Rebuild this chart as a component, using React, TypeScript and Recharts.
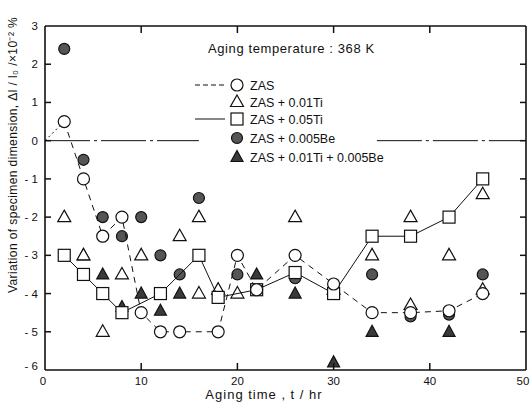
import React from 'react';
import { ComposedChart, Scatter, XAxis, YAxis, ReferenceLine, Customized } from 'recharts';

// ZAS (open circles, dashed line)
const zasT = [2, 4, 6, 8, 10, 12, 14, 18, 20, 22, 26, 30, 34, 38, 42, 45.5];
const zasV = [0.5, -1, -2.5, -2, -4.5, -5, -5, -5, -3, -3.9, -3, -3.75, -4.5, -4.5, -4.45, -4];
const zasStartT = [0, 2];
const zasStartV = [0, 0.5];
// ZAS + 0.01Ti (open triangles)
const ti01T = [2, 4, 6, 8, 10, 14, 16, 16, 18, 20, 26, 30, 34, 38, 38, 42, 45.5, 45.5];
const ti01V = [-2, -3, -5, -3.5, -3, -2.5, -2, -4, -3.9, -4, -2, -3.9, -3, -2, -4.3, -3, -1.4, -3.9];
// ZAS + 0.05Ti (open squares, solid line)
const ti05T = [2, 4, 6, 8, 12, 16, 18, 22, 26, 30, 34, 38, 42, 45.5];
const ti05V = [-3, -3.5, -4, -4.5, -4, -3, -4.1, -3.9, -3.45, -4, -2.5, -2.5, -2, -1];
// ZAS + 0.005Be (grey filled circles)
const beT = [2, 4, 6, 8, 10, 12, 14, 16, 20, 26, 34, 38, 42, 45.5];
const beV = [2.4, -0.5, -2, -2.5, -2, -3, -3.5, -1.5, -3.5, -3.6, -3.5, -4.6, -4.55, -3.5];
// ZAS + 0.01Ti + 0.005Be (filled triangles)
const tibeT = [4, 6, 8, 10, 12, 14, 18, 22, 26, 30, 34, 42];
const tibeV = [-3, -3.5, -4.35, -4, -4.45, -4, -3.9, -3.5, -4, -5.8, -5, -5];

const xTicks = [0, 10, 20, 30, 40, 50];
const yTicks = [3, 2, 1, 0, -1, -2, -3, -4, -5, -6];

const legendLabels = ['ZAS', 'ZAS + 0.01Ti', 'ZAS + 0.05Ti', 'ZAS + 0.005Be', 'ZAS + 0.01Ti + 0.005Be'];
const annotation = 'Aging temperature  : 368 K';
const xTitle = 'Aging time ,  t / hr';
const yTitle = 'Variation of specimen dimension, \u0394l / l\u2080 /\u00d710\u207b\u00b2 %';

const toData = (t: number[], v: number[]) => t.map((x, i) => ({ t: x, v: v[i] }));

const FONT = '"Liberation Sans", Arial, sans-serif';
const INK = '#111';
const AX = { stroke: INK, strokeWidth: 1.6 };

const OpenCircle = (p: any) => <circle cx={p.cx} cy={p.cy} r={6} fill="#fff" stroke={INK} strokeWidth={1.2} />;
const OpenTri = (p: any) => (
  <path d={`M${p.cx},${p.cy - 7} L${p.cx + 6.5},${p.cy + 4.5} L${p.cx - 6.5},${p.cy + 4.5} Z`} fill="#fff" stroke={INK} strokeWidth={1.2} />
);
const OpenSquare = (p: any) => <rect x={p.cx - 6} y={p.cy - 6} width={12} height={12} fill="#fff" stroke={INK} strokeWidth={1.2} />;
const GreyCircle = (p: any) => <circle cx={p.cx} cy={p.cy} r={5.5} fill="#555" stroke={INK} strokeWidth={1.2} />;
const DarkTri = (p: any) => (
  <path d={`M${p.cx},${p.cy - 6.5} L${p.cx + 6},${p.cy + 4.5} L${p.cx - 6},${p.cy + 4.5} Z`} fill="#3a3a3a" stroke={INK} strokeWidth={1.2} />
);
const NoShape = () => <g />;

const BottomTick = (p: any) => {
  const v = p.payload.value;
  return (
    <g>
      {v > 0 && v < 50 && <line x1={p.x} y1={p.y} x2={p.x} y2={p.y - 7} stroke={INK} strokeWidth={1.5} />}
      <text x={p.x + (v === 0 ? -2 : v === 50 ? -3 : 0)} y={p.y + 15} textAnchor="middle" fontSize={11.5} fontFamily={FONT} fill={INK}>{v}</text>
    </g>
  );
};
const TopTick = (p: any) => {
  const v = p.payload.value;
  return <g>{v > 0 && v < 50 && <line x1={p.x} y1={p.y} x2={p.x} y2={p.y + 7} stroke={INK} strokeWidth={1.5} />}</g>;
};
const LeftTick = (p: any) => {
  const v = p.payload.value;
  const label = v < 0 ? `- ${Math.abs(v)}` : String(v);
  return (
    <g>
      {v > -6 && v < 3 && <line x1={p.x} y1={p.y} x2={p.x + 6} y2={p.y} stroke={INK} strokeWidth={1.5} />}
      <text x={p.x - 7} y={p.y + 4 - (v === -6 ? 4 : 0)} textAnchor="end" fontSize={11.5} fontFamily={FONT} fill={INK}>{label}</text>
    </g>
  );
};
const RightTick = (p: any) => {
  const v = p.payload.value;
  return <g>{v > -6 && v < 3 && <line x1={p.x} y1={p.y} x2={p.x - 6} y2={p.y} stroke={INK} strokeWidth={1.5} />}</g>;
};

const Decor = () => {
  const rows = [85, 102, 119, 138, 157];
  const sx = 237;
  return (
    <g fontFamily={FONT} fill={INK}>
      <text x={208} y={53} fontSize={13} letterSpacing={0.6}>{annotation}</text>
      <line x1={195} y1={rows[0]} x2={225} y2={rows[0]} stroke={INK} strokeDasharray="5 3" />
      <line x1={195} y1={rows[2]} x2={225} y2={rows[2]} stroke={INK} />
      <OpenCircle cx={sx} cy={rows[0]} />
      <OpenTri cx={sx} cy={rows[1]} />
      <OpenSquare cx={sx} cy={rows[2]} />
      <GreyCircle cx={sx} cy={rows[3]} />
      <DarkTri cx={sx} cy={rows[4]} />
      {legendLabels.map((l, i) => (
        <text key={l} x={250} y={rows[i] + 5} fontSize={12.5}>{l}</text>
      ))}
      <text x={264} y={399} fontSize={13} textAnchor="middle" letterSpacing={1}>{xTitle}</text>
      <text transform="translate(17,155) rotate(-90)" fontSize={12} textAnchor="middle" letterSpacing={0.4}>{yTitle}</text>
    </g>
  );
};

export default function App() {
  return (
    <div style={{ position: 'absolute', left: 0, top: 0, background: '#fff' }}>
      <ComposedChart width={532} height={405} margin={{ top: 25, right: 5, bottom: 5, left: 15 }}>
        <XAxis xAxisId="x" dataKey="t" type="number" domain={[0, 50]} ticks={xTicks} interval={0}
          height={30} tickSize={0} tickMargin={0} tickLine={false} axisLine={AX} tick={<BottomTick />} allowDataOverflow />
        <XAxis xAxisId="xt" orientation="top" dataKey="t" type="number" domain={[0, 50]} ticks={xTicks} interval={0}
          height={1} tickSize={0} tickMargin={0} tickLine={false} axisLine={AX} tick={<TopTick />} allowDataOverflow />
        <YAxis yAxisId="y" dataKey="v" type="number" domain={[-6, 3]} ticks={yTicks} interval={0}
          width={30} tickSize={0} tickMargin={0} tickLine={false} axisLine={AX} tick={<LeftTick />} allowDataOverflow />
        <YAxis yAxisId="yr" orientation="right" dataKey="v" type="number" domain={[-6, 3]} ticks={yTicks} interval={0}
          width={1} tickSize={0} tickMargin={0} tickLine={false} axisLine={AX} tick={<RightTick />} allowDataOverflow />
        <ReferenceLine xAxisId="x" yAxisId="y" segment={[{ x: 0, y: 0 }, { x: 16, y: 0 }]} stroke={INK} strokeDasharray="45 4 3 4" />
        <ReferenceLine xAxisId="x" yAxisId="y" segment={[{ x: 34.5, y: 0 }, { x: 50, y: 0 }]} stroke={INK} strokeDasharray="45 4 3 4" />
        {/* invisible series bound to the top/right axes so that their scales (and ticks) exist */}
        <Scatter xAxisId="xt" yAxisId="yr" data={toData(zasT, zasV)} shape={<NoShape />} isAnimationActive={false} />
        <Scatter xAxisId="x" yAxisId="y" data={toData(zasStartT, zasStartV)} shape={<NoShape />}
          line={{ stroke: INK, strokeWidth: 1, strokeDasharray: '2 3' }} isAnimationActive={false} />
        <Scatter xAxisId="x" yAxisId="y" data={toData(beT, beV)} shape={<GreyCircle />} isAnimationActive={false} />
        <Scatter xAxisId="x" yAxisId="y" data={toData(tibeT, tibeV)} shape={<DarkTri />} isAnimationActive={false} />
        <Scatter xAxisId="x" yAxisId="y" data={toData(ti01T, ti01V)} shape={<OpenTri />} isAnimationActive={false} />
        <Scatter xAxisId="x" yAxisId="y" data={toData(ti05T, ti05V)} shape={<OpenSquare />}
          line={{ stroke: INK, strokeWidth: 1 }} isAnimationActive={false} />
        <Scatter xAxisId="x" yAxisId="y" data={toData(zasT, zasV)} shape={<OpenCircle />}
          line={{ stroke: INK, strokeWidth: 1, strokeDasharray: '6 5' }} isAnimationActive={false} />
        <Customized component={<Decor />} />
      </ComposedChart>
    </div>
  );
}
